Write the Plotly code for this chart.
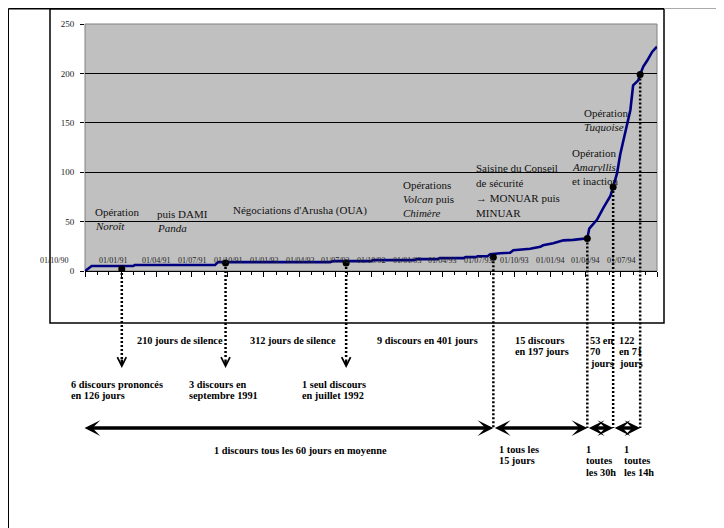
import plotly.graph_objects as go
from datetime import datetime

# ---------------- data ----------------
line_dates = ['1990-10-01', '1990-10-18', '1991-02-01', '1991-02-05', '1991-08-29', '1991-09-06',
              '1992-06-18', '1992-06-26', '1992-10-01', '1992-10-06', '1993-01-20', '1993-01-25',
              '1993-03-20', '1993-03-25', '1993-05-25', '1993-05-30', '1993-06-25', '1993-06-30',
              '1993-07-25', '1993-08-01', '1993-08-27', '1993-09-21', '1993-09-29', '1993-11-11',
              '1993-12-07', '1993-12-14', '1994-01-09', '1994-02-04', '1994-03-01', '1994-04-06',
              '1994-04-11', '1994-04-19', '1994-05-01', '1994-05-17', '1994-06-04', '1994-06-11',
              '1994-06-21', '1994-06-29', '1994-07-12', '1994-07-25', '1994-08-01', '1994-08-14',
              '1994-08-19', '1994-08-27', '1994-09-06', '1994-09-19', '1994-10-01']
line_counts = [0, 5, 5, 6, 6, 9,
               9, 10, 10, 11, 11, 12,
               12, 13, 13, 14, 14, 15,
               15, 17, 18, 18.5, 21, 22.5,
               24.5, 26, 28, 31, 31.5, 33,
               43, 47, 52, 64, 76, 85,
               99, 118, 140, 163, 188, 193,
               199, 207, 213, 222, 227]

marker_dates = ['1991-01-03', '1991-09-25', '1992-07-29', '1993-08-09', '1994-04-06', '1994-06-11', '1994-08-19']
marker_counts = [2, 8, 8, 14, 33, 85, 199]

tick_labels = ['01/10/90', '01/01/91', '01/04/91', '01/07/91', '01/10/91', '01/01/92', '01/04/92',
               '01/07/92', '01/10/92', '01/01/93', '01/04/93', '01/07/93', '01/10/93', '01/01/94',
               '01/04/94', '01/07/94']
y_ticks = [0, 50, 100, 150, 200, 250]

X_START, X_END = '1990-10-01', '1994-10-01'
TIMELINE_START = '1990-09-26'
Y_MAX = 250

# (lines, left x, first-line y, line spacing) in page pixels
events = [
    (["Opération", "<i>Noroît</i>"], 93, 212, 14),
    (["puis DAMI", "<i>Panda</i>"], 155, 214, 14),
    (["Négociations d'Arusha (OUA)"], 231, 210, 14),
    (["Opérations", "<i>Volcan</i> puis", "<i>Chimère</i>"], 401, 185, 14),
    (["Saisine du Conseil", "de sécurité", "→ MONUAR puis", "MINUAR"], 474, 168, 15),
    (["Opération", "<i>Amaryllis</i>", "et inaction"], 570, 153, 14),
    (["Opération", "<i>Tuquoise</i>"], 582, 113, 14),
]
notes = [
    (["210 jours de silence"], 135, 340),
    (["312 jours de silence"], 248, 340),
    (["9 discours en 401 jours"], 375, 340),
    (["15 discours", "en 197 jours"], 513, 340),
    (["53 en", "70", "jours"], 588, 340),
    (["122", "en 71", "jours"], 617, 340),
    (["6 discours prononcés", "en 126 jours"], 69, 384),
    (["3 discours en", "septembre 1991"], 187, 384),
    (["1 seul discours", "en juillet 1992"], 300, 384),
    (["1 discours tous les 60 jours en moyenne"], 212, 450),
    (["1 tous les", "15 jours"], 497, 449),
    (["1", "toutes", "les 30h"], 584, 449),
    (["1", "toutes", "les 14h"], 622, 449),
]
NOTE_SPACING = 11.7

# ---------------- layout helpers (page pixel -> paper) ----------------
OFF = 8                      # page offset of the figure div
FW, FH = 716, 520
L, T, W, H = 77, 16, 572, 247


def px(x):
    return (x - OFF - L) / W


def py(y):
    return (T + H - (y - OFF)) / H


SERIF = "Liberation Serif"

fig = go.Figure()
fig.add_trace(go.Scatter(x=line_dates, y=line_counts, mode='lines',
                         line=dict(color='#000080', width=2.6), hoverinfo='skip'))
fig.add_trace(go.Scatter(x=marker_dates, y=marker_counts, mode='markers',
                         marker=dict(color='black', size=7, symbol='circle'), hoverinfo='skip'))

shapes = []
# outer frame and chart box
shapes.append(dict(type='line', xref='paper', yref='paper', x0=px(8.5), x1=px(8.5), y0=py(8.5), y1=py(528),
                   line=dict(color='black', width=1)))
shapes.append(dict(type='line', xref='paper', yref='paper', x0=px(664), x1=px(724), y0=py(8.5), y1=py(8.5),
                   line=dict(color='#aaaaaa', width=1)))
shapes.append(dict(type='line', xref='paper', yref='paper', x0=px(8.5), x1=px(664), y0=py(8.8), y1=py(8.8),
                   line=dict(color='black', width=1.5)))
shapes.append(dict(type='rect', xref='paper', yref='paper', x0=px(50), x1=px(664), y0=py(323), y1=py(8.8),
                   line=dict(color='black', width=1.5), layer='below'))
shapes.append(dict(type='rect', xref='paper', yref='paper', x0=0, x1=1, y0=0, y1=1,
                   line=dict(color='#808080', width=1), layer='below'))

annotations = []
# dotted drop lines from markers
for i, (d, c) in enumerate(zip(marker_dates, marker_counts)):
    bottom = 359 if i < 3 else 428
    shapes.append(dict(type='line', xref='x', yref='paper', x0=d, x1=d, y0=c / Y_MAX, y1=py(bottom),
                       line=dict(color='black', width=2.5, dash='2px,2px'), layer='above'))
    if i < 3:
        annotations.append(dict(x=d, y=py(368), xref='x', yref='paper', text='', showarrow=True,
                                ax=0, ay=-10, arrowhead=5, arrowwidth=2.5, arrowsize=0.7,
                                arrowcolor='black'))

# horizontal timeline arrows
arrow_style = dict(text='', showarrow=True, axref='x', ay=0, arrowhead=3, startarrowhead=3,
                   arrowside='end+start', arrowwidth=3.5, arrowsize=0.75, startarrowsize=0.75,
                   arrowcolor='black', xref='x', yref='paper')
annotations.append(dict(x=marker_dates[3], y=py(428), ax=TIMELINE_START, **arrow_style))
for a, b in zip(marker_dates[3:-1], marker_dates[4:]):
    annotations.append(dict(x=b, y=py(428), ax=a, **arrow_style))

# date labels inside plot
for i, lab in enumerate(tick_labels):
    dd, mm, yy = lab.split('/')
    d = datetime(1900 + int(yy), int(mm), int(dd)).strftime('%Y-%m-%d')
    shift = -31 if i == 0 else (-8 if i == 1 else 0)
    annotations.append(dict(x=d, y=11, xref='x', yref='y', text=lab, showarrow=False, xshift=shift,
                            font=dict(family=SERIF, size=8, color='#222222')))

for lines, x, y0, sp in events:
    for k, txt in enumerate(lines):
        annotations.append(dict(x=px(x), y=py(y0 + k * sp), xref='paper', yref='paper', text=txt,
                                showarrow=False, xanchor='left', yanchor='middle', align='left',
                                font=dict(family=SERIF, size=11, color='#111111')))
for lines, x, y0 in notes:
    for k, txt in enumerate(lines):
        annotations.append(dict(x=px(x), y=py(y0 + k * NOTE_SPACING), xref='paper', yref='paper',
                                text=txt, showarrow=False, xanchor='left', yanchor='middle',
                                align='left',
                                font=dict(family=SERIF, size=10.3, color='black', weight='bold')))

fig.update_layout(
    width=FW, height=FH, template='none',
    margin=dict(l=L, r=FW - L - W, t=T, b=FH - T - H, autoexpand=False),
    paper_bgcolor='white', plot_bgcolor='#C0C0C0', showlegend=False,
    shapes=shapes, annotations=annotations,
    xaxis=dict(type='date', range=[X_START, X_END], showticklabels=False, ticks='outside', ticklen=5,
               tickcolor='black', dtick='M3', tick0=X_START, showgrid=False, zeroline=False,
               showline=True, linecolor='black', linewidth=1, automargin=False,
               minor=dict(dtick='M1', tick0=X_START, ticks='outside', ticklen=3, tickcolor='black',
                          showgrid=False)),
    yaxis=dict(range=[0, Y_MAX], tickvals=y_ticks, ticks='outside', ticklen=4, tickcolor='black',
               showgrid=True, gridcolor='black', gridwidth=1, zeroline=False, showline=False,
               ticklabelstandoff=4, automargin=False,
               tickfont=dict(family=SERIF, size=9, color='#222222')),
)

fig.write_html("out.html")
